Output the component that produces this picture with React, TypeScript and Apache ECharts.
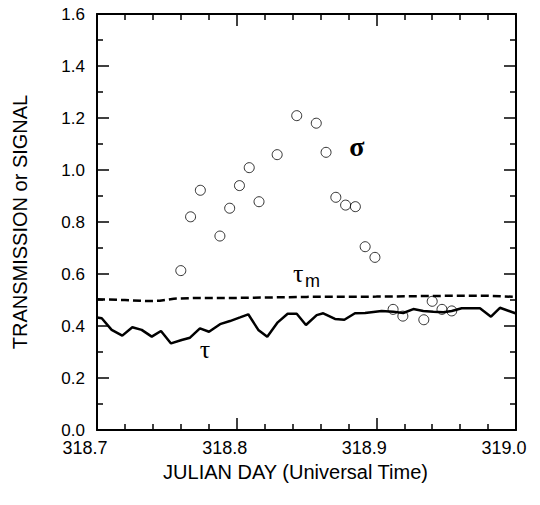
import { useEffect, useRef } from "react";
import * as echarts from "echarts";

// σ (signal) observations
const sigmaX = [318.760, 318.767, 318.774, 318.788, 318.795, 318.802, 318.809, 318.816, 318.829, 318.843, 318.857, 318.864, 318.871, 318.878, 318.885, 318.892, 318.899, 318.912, 318.919, 318.934, 318.940, 318.947, 318.954];
const sigmaY = [0.613, 0.820, 0.922, 0.746, 0.853, 0.940, 1.009, 0.878, 1.059, 1.209, 1.180, 1.068, 0.895, 0.865, 0.859, 0.705, 0.664, 0.464, 0.438, 0.424, 0.495, 0.464, 0.458];

// τ (measured transmission)
const tauX = [318.700, 318.7034, 318.7105, 318.7181, 318.7253, 318.7320, 318.7392, 318.7458, 318.7530, 318.7606, 318.7666, 318.7737, 318.7802, 318.7881, 318.7952, 318.8024, 318.8083, 318.8155, 318.8219, 318.8294, 318.8365, 318.8430, 318.8496, 318.8573, 318.8620, 318.8704, 318.8771, 318.8847, 318.8919, 318.9038, 318.9121, 318.9193, 318.9265, 318.9336, 318.9408, 318.9480, 318.9540, 318.9611, 318.9742, 318.9821, 318.9885, 319.000];
const tauY = [0.433, 0.430, 0.385, 0.363, 0.395, 0.385, 0.359, 0.381, 0.333, 0.346, 0.355, 0.391, 0.378, 0.407, 0.419, 0.433, 0.445, 0.385, 0.359, 0.414, 0.447, 0.447, 0.404, 0.442, 0.449, 0.427, 0.424, 0.449, 0.450, 0.458, 0.455, 0.450, 0.465, 0.458, 0.455, 0.453, 0.458, 0.468, 0.468, 0.436, 0.470, 0.448];

// τm (model transmission)
const tauMX = [318.700, 318.720, 318.735, 318.745, 318.755, 318.770, 318.800, 318.850, 318.900, 318.950, 318.980, 319.000];
const tauMY = [0.503, 0.500, 0.496, 0.497, 0.505, 0.508, 0.508, 0.512, 0.513, 0.516, 0.516, 0.512];

// annotation anchors (data coords)
const sigmaLabel = [318.886, 1.09];
const tauMLabel = [318.844, 0.603];
const tauLabel = [318.7773, 0.308];

const xMin = 318.7;
const xMax = 319.0;
const yMin = 0;
const yMax = 1.6;

export default function App() {
  const ref = useRef<HTMLDivElement>(null);
  useEffect(() => {
    document.body.style.margin = "0";
    const chart = echarts.init(ref.current!, null, { renderer: "svg" });
    const font = "Liberation Sans";
    const axisLine = { show: true, onZero: false, lineStyle: { color: "#000", width: 2 } };
    const tick = { show: true, inside: true, length: 12, lineStyle: { color: "#000", width: 1.5 } };
    const minorX = { show: true, splitNumber: 5, length: 6, lineStyle: { color: "#000", width: 1.5 } };
    const minorY = { show: true, splitNumber: 2, length: 6, lineStyle: { color: "#000", width: 1.5 } };
    const xBase = { type: "value", min: xMin, max: xMax, interval: 0.1, splitLine: { show: false }, axisLine, axisTick: tick, minorTick: minorX };
    const yBase = { type: "value", min: yMin, max: yMax, interval: 0.2, splitLine: { show: false }, axisLine, axisTick: tick, minorTick: minorY };
    chart.setOption({
      animation: false,
      backgroundColor: "#fff",
      grid: { left: 97, right: 24, top: 14, bottom: 75, containLabel: false },
      xAxis: [
        {
          ...xBase,
          position: "bottom",
          name: "JULIAN DAY (Universal Time)",
          nameLocation: "middle",
          nameGap: 30,
          nameTextStyle: { fontFamily: font, fontSize: 20, color: "#000", padding: [0, 22, 0, 0] },
          axisLabel: { fontFamily: font, fontSize: 18, color: "#000", margin: 9, padding: [0, 24, 0, 0], formatter: (v: number) => v.toFixed(1) },
        },
        { ...xBase, position: "top", axisLabel: { show: false } },
      ],
      yAxis: [
        {
          ...yBase,
          position: "left",
          name: "TRANSMISSION or SIGNAL",
          nameLocation: "middle",
          nameGap: 67,
          nameTextStyle: { fontFamily: font, fontSize: 20, color: "#000" },
          axisLabel: { fontFamily: font, fontSize: 17, color: "#000", margin: 12, padding: [2, 0, 0, 0], formatter: (v: number) => v.toFixed(1) },
        },
        { ...yBase, position: "right", axisLabel: { show: false } },
      ],
      series: [
        {
          type: "line",
          data: tauMX.map((x, i) => [x, tauMY[i]]),
          showSymbol: false,
          symbol: "none",
          lineStyle: { color: "#000", width: 2.5, type: [8, 4] },
          z: 2,
        },
        {
          type: "line",
          data: tauX.map((x, i) => [x, tauY[i]]),
          showSymbol: false,
          symbol: "none",
          lineStyle: { color: "#000", width: 2.5 },
          z: 3,
        },
        {
          type: "scatter",
          data: sigmaX.map((x, i) => [x, sigmaY[i]]),
          symbol: "circle",
          symbolSize: 10,
          itemStyle: { color: "rgba(0,0,0,0)", borderColor: "#000", borderWidth: 1 },
          z: 4,
        },
      ],
    });
    const px = (p: number[]) => chart.convertToPixel({ xAxisIndex: 0, yAxisIndex: 0 }, p) as number[];
    const s = px(sigmaLabel);
    const tm = px(tauMLabel);
    const t = px(tauLabel);
    const serif = "Liberation Serif";
    chart.setOption({
      graphic: [
        { type: "text", x: s[0], y: s[1], style: { text: "σ", font: `bold 28px '${serif}'`, fill: "#000", align: "center", verticalAlign: "middle" } },
        { type: "text", x: tm[0], y: tm[1], style: { text: "τ", font: `26px '${serif}'`, fill: "#000", align: "center", verticalAlign: "middle" } },
        { type: "text", x: tm[0] + 7, y: tm[1] + 8, style: { text: "m", font: `18px '${font}'`, fill: "#000", align: "left", verticalAlign: "middle" } },
        { type: "text", x: t[0], y: t[1], style: { text: "τ", font: `26px '${serif}'`, fill: "#000", align: "center", verticalAlign: "middle" } },
      ],
    });
    return () => chart.dispose();
  }, []);
  return <div ref={ref} style={{ width: 540, height: 505 }} />;
}
